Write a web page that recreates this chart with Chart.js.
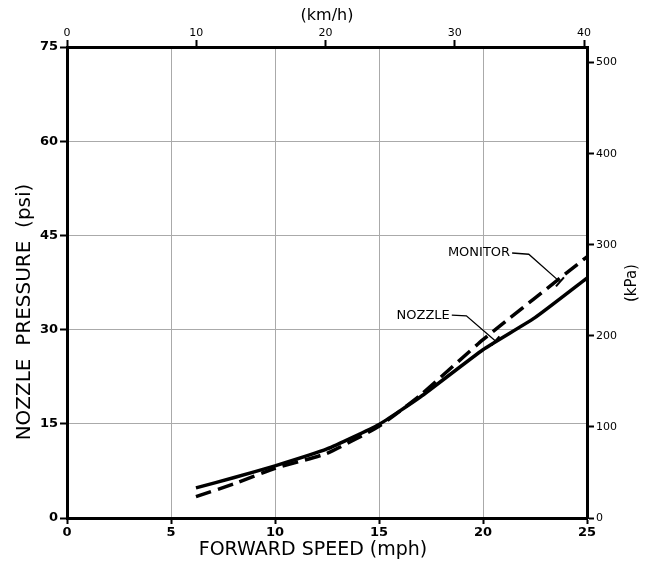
<!DOCTYPE html>
<html>
<head>
<meta charset="utf-8">
<script src="https://cdn.jsdelivr.net/npm/chart.js@4"></script>
<style>
  body { margin: 0; background: #fff; }
  canvas { display: block; }
</style>
</head>
<body>
<canvas id="myChart" width="654" height="567"></canvas>
<script>
// values (mph / psi)
var mphNozzle = [6.2, 8, 10, 12.5, 15, 17, 20, 22.5, 25];
var psiNozzle = [4.8, 6.4, 8.3, 11.0, 14.9, 19.3, 26.8, 31.9, 38.2];
var mphMonitor = [6.2, 8, 10, 12.5, 15, 17, 20, 25];
var psiMonitor = [3.4, 5.4, 7.9, 10.3, 14.6, 19.6, 28.4, 41.6];

var mphTicks = [0, 5, 10, 15, 20, 25];
var psiTicks = [0, 15, 30, 45, 60, 75];
var kmhTicks = [0, 10, 20, 30, 40];
var kpaTicks = [0, 100, 200, 300, 400, 500];

const KMH_PER_MPH = 1.609;
const KPA_PER_PSI = 6.895;
const FONT = "'DejaVu Sans', sans-serif";

const toPoints = (xs, ys) => xs.map((x, i) => ({x: x, y: ys[i]}));
const fixTicks = (vals) => (scale) => { scale.ticks = vals.map(v => ({value: v})); };

// axis titles that sit off-centre, leader labels
const extras = {
    id: "extras",
    afterDraw(chart) {
        const c = chart.ctx, x = chart.scales.x, y = chart.scales.y;
        c.save();
        c.fillStyle = "#000";
        c.textAlign = "center";
        c.textBaseline = "middle";

        c.font = "19px " + FONT;
        c.fillText("FORWARD SPEED (mph)", 313, 550);

        c.save();
        c.translate(25, 312);
        c.rotate(-Math.PI / 2);
        c.font = "20px " + FONT;
        c.fillText("NOZZLE  PRESSURE  (psi)", 0, 0);
        c.restore();

        c.save();
        c.translate(632, 283);
        c.rotate(-Math.PI / 2);
        c.font = "15px " + FONT;
        c.fillText("(kPa)", 0, 0);
        c.restore();

        // leaders
        const lead = (text, pts) => {
            const p = pts.map(q => [x.getPixelForValue(q[0]), y.getPixelForValue(q[1])]);
            c.font = "13px " + FONT;
            c.textAlign = "right";
            c.fillText(text, p[0][0] - 2, p[0][1]);
            c.lineWidth = 1.3;
            c.beginPath();
            p.forEach((q, i) => i ? c.lineTo(q[0], q[1]) : c.moveTo(q[0], q[1]));
            c.stroke();
            const a = p[p.length - 2], b = p[p.length - 1];
            const dx = b[0] - a[0], dy = b[1] - a[1], len = Math.hypot(dx, dy);
            const nx = -dy / len * 6, ny = dx / len * 6;
            c.lineWidth = 2;
            c.beginPath();
            c.moveTo(b[0] - nx, b[1] - ny);
            c.lineTo(b[0] + nx, b[1] + ny);
            c.stroke();
        };
        lead("MONITOR", [[21.4, 42.2], [22.2, 42.0], [23.7, 37.6]]);
        lead("NOZZLE", [[18.5, 32.3], [19.2, 32.2], [20.6, 28.2]]);
        c.restore();
    }
};

const tickFont = {family: FONT, size: 13, weight: "bold"};
const smallFont = {family: FONT, size: 11};

new Chart("myChart", {
    type: "scatter",
    data: {
        datasets: [{
            label: "NOZZLE",
            data: toPoints(mphNozzle, psiNozzle),
            showLine: true,
            borderColor: "#000",
            borderWidth: 3.5,
            pointRadius: 0,
            tension: 0.15
        }, {
            label: "MONITOR",
            data: toPoints(mphMonitor, psiMonitor),
            showLine: true,
            borderColor: "#000",
            borderWidth: 3.5,
            borderDash: [16, 7],
            pointRadius: 0,
            tension: 0.15
        }]
    },
    options: {
        responsive: false,
        animation: false,
        layout: {padding: 0},
        plugins: {legend: {display: false}, tooltip: {enabled: false}},
        scales: {
            x: {
                type: "linear", position: "bottom", min: 0, max: 25,
                afterBuildTicks: fixTicks(mphTicks),
                afterFit: (s) => { s.height = 49; },
                grid: {color: "#aaa", lineWidth: 1, tickColor: "#000", tickWidth: 2, tickLength: 6},
                border: {color: "#000", width: 3},
                ticks: {color: "#000", font: tickFont, padding: 1, maxRotation: 0}
            },
            x2: {
                type: "linear", position: "top", min: 0, max: 25 * KMH_PER_MPH,
                afterBuildTicks: fixTicks(kmhTicks),
                afterFit: (s) => { s.height = 47; },
                grid: {drawOnChartArea: false, tickColor: "#000", tickWidth: 2, tickLength: 7},
                border: {color: "#000", width: 3},
                ticks: {color: "#000", font: smallFont, padding: 0, maxRotation: 0},
                title: {display: true, text: "(km/h)", color: "#000", font: {family: FONT, size: 16, lineHeight: 1}, padding: {top: 8}}
            },
            y: {
                type: "linear", position: "left", min: 0, max: 75,
                afterBuildTicks: fixTicks(psiTicks),
                afterFit: (s) => { s.width = 67; },
                grid: {color: "#aaa", lineWidth: 1, tickColor: "#000", tickWidth: 2, tickLength: 7},
                border: {color: "#000", width: 3},
                ticks: {color: "#000", font: tickFont, padding: 2}
            },
            y2: {
                type: "linear", position: "right", min: 0, max: 75 * KPA_PER_PSI,
                afterBuildTicks: fixTicks(kpaTicks),
                afterFit: (s) => { s.width = 67; },
                grid: {drawOnChartArea: false, tickColor: "#000", tickWidth: 2, tickLength: 7},
                border: {color: "#000", width: 3},
                ticks: {color: "#000", font: smallFont, padding: 2}
            }
        }
    },
    plugins: [extras]
});
</script>
</body>
</html>
